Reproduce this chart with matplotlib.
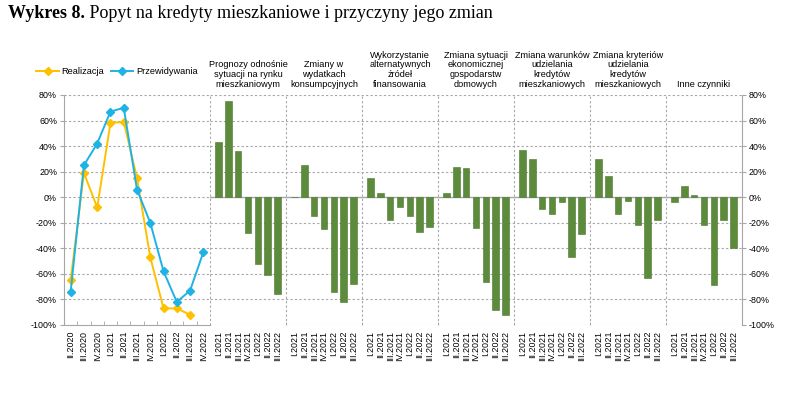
import matplotlib.pyplot as plt
import numpy as np

# lewa czesc - popyt
quarters_line = ['II.2020', 'III.2020', 'IV.2020', 'I.2021', 'II.2021', 'III.2021',
                 'IV.2021', 'I.2022', 'II.2022', 'III.2022', 'IV.2022']
realizacja = [-65, 19, -8, 58, 59, 15, -47, -87, -87, -92, np.nan]
przewidywania = [-74, 25, 42, 67, 70, 6, -20, -58, -82, -73, -43]

# prawa czesc - przyczyny
quarters_bar = ['I.2021', 'II.2021', 'III.2021', 'IV.2021', 'I.2022', 'II.2022', 'III.2022']
group_names = ['Prognozy odnośnie\nsytuacji na rynku\nmieszkaniowym',
               'Zmiany w\nwydatkach\nkonsumpcyjnych',
               'Wykorzystanie\nalternatywnych\nźródeł\nfinansowania',
               'Zmiana sytuacji\nekonomicznej\ngospodarstw\ndomowych',
               'Zmiana warunków\nudzielania\nkredytów\nmieszkaniowych',
               'Zmiana kryteriów\nudzielania\nkredytów\nmieszkaniowych',
               'Inne czynniki']
prognozy = [43, 75, 36, -28, -52, -61, -76]
wydatki = [0, 25, -15, -25, -74, -82, -68]
alternatywne = [15, 3, -18, -8, -15, -27, -23]
sytuacja = [3, 24, 23, -24, -66, -88, -92]
warunki = [37, 30, -9, -13, -4, -47, -29]
kryteria = [30, 17, -13, -3, -22, -63, -18]
inne = [-4, 9, 2, -22, -69, -18, -40]
groups = [prognozy, wydatki, alternatywne, sytuacja, warunki, kryteria, inne]

yticks = np.arange(-100, 81, 20)
ylabels = ['%d%%' % v for v in yticks]
grid_c = '#a6a6a6'
yellow = '#ffc000'
blue = '#1fb2e4'
green = '#5b8b3b'

plt.rcParams['font.family'] = ['Liberation Sans', 'DejaVu Sans']
fig = plt.figure(figsize=(8, 4.07), dpi=100)

W, H = 800, 407
y0, y1 = 1 - 325 / H, 1 - 95 / H
ax1 = fig.add_axes([64 / W, y0, (210 - 64) / W, y1 - y0])
ax2 = fig.add_axes([210 / W, y0, (742 - 210) / W, y1 - y0])

# --- linie ---
x = np.arange(len(quarters_line))
ax1.plot(x, realizacja, color=yellow, lw=1.4, marker='D', ms=4, label='Realizacja')
ax1.plot(x, przewidywania, color=blue, lw=1.4, marker='D', ms=4, label='Przewidywania')
ax1.set_xlim(-0.5, len(x) - 0.5)
ax1.set_ylim(-100, 80)
ax1.set_yticks(yticks)
ax1.set_yticklabels(ylabels, fontsize=6.4)
ax1.set_xticks(x)
ax1.set_xticklabels(quarters_line, rotation=90, fontsize=6.4)
ax1.set_xticks(np.arange(-0.5, len(x), 1), minor=True)
ax1.tick_params(axis='x', which='major', length=0, pad=4)
ax1.tick_params(axis='x', which='minor', length=3, direction='in', color=grid_c)
ax1.tick_params(axis='y', length=3, color=grid_c, pad=2)
for v in yticks[1:]:
    ax1.axhline(v, color=grid_c, lw=0.8, ls=(0, (2, 2)), zorder=0)
for s in ['top', 'right']:
    ax1.spines[s].set_visible(False)
for s in ['left', 'bottom']:
    ax1.spines[s].set_color(grid_c)

# --- slupki ---
gw = 7.75
xs, vals, labs = [], [], []
for g, data in enumerate(groups):
    for i, v in enumerate(data):
        xs.append(g * gw + 0.875 + i)
        vals.append(v)
        labs.append(quarters_bar[i])
ax2.bar(xs, vals, width=0.65, color=green, edgecolor='#4a7530', lw=0.4, zorder=3)
ax2.set_xlim(0, len(groups) * gw)
ax2.set_ylim(-100, 80)
ax2.set_xticks(xs)
ax2.set_xticklabels(labs, rotation=90, fontsize=6.4)
ax2.tick_params(axis='x', length=0, pad=4)
ax2.set_xticks([g * gw for g in range(1, len(groups))], minor=True)
ax2.tick_params(axis='x', which='minor', length=2, direction='in', color=grid_c)
ax2.yaxis.tick_right()
ax2.set_yticks(yticks)
ax2.set_yticklabels(ylabels, fontsize=6.4)
ax2.tick_params(axis='y', length=3, color=grid_c, pad=2)
for v in yticks:
    if v != 0:
        ax2.axhline(v, color=grid_c, lw=0.8, ls=(0, (2, 2)), zorder=0)
ax2.axhline(0, color=grid_c, lw=1, zorder=2)
for g in range(len(groups)):
    ax2.axvline(g * gw, color=grid_c, lw=0.8, ls=(0, (2, 2)), zorder=0)
    ax2.text(g * gw + gw / 2, 85, group_names[g], ha='center', va='bottom',
             fontsize=6.6, linespacing=1.1)
for s in ['top', 'left', 'bottom']:
    ax2.spines[s].set_visible(False)
ax2.spines['right'].set_color(grid_c)

# legenda
fig.legend(loc='center left', bbox_to_anchor=(28 / W, 1 - 72 / H), ncol=2, frameon=False,
           fontsize=6.7, handlelength=2.4, handletextpad=0.3, columnspacing=0.7)

# tytul
t1 = fig.text(8 / W, 1 - 18 / H, 'Wykres 8.', fontsize=13, fontweight='bold',
              family='Liberation Serif', va='baseline')
ax1.annotate(' Popyt na kredyty mieszkaniowe i przyczyny jego zmian', xy=(1, 0),
             xycoords=t1, va='bottom', ha='left', fontsize=13,
             family='Liberation Serif', annotation_clip=False)

fig.savefig('out.png', dpi=100)
